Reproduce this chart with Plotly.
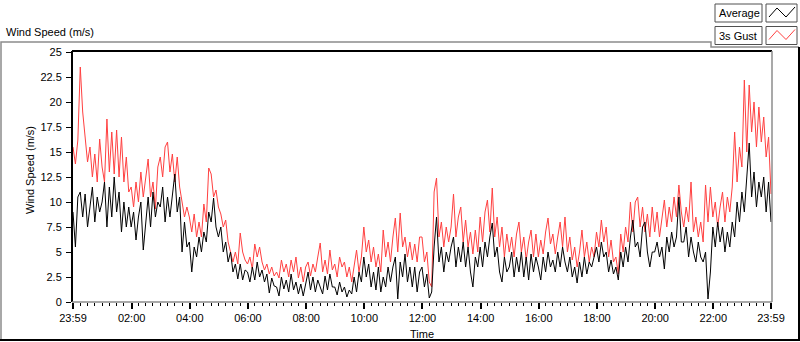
import plotly.graph_objects as go

# ---------------- data (5-minute samples) ----------------
series_names = ["Average", "3s Gust"]
start_label = "23:59"
step_minutes = 5

gust = [
    15.5, 13.8, 16.2, 23.5, 19.0, 16.5, 14.0, 15.5, 12.5, 14.8, 12.0, 16.3,
    13.5, 12.0, 18.3, 13.0, 17.0, 12.8, 17.2, 12.5, 16.5, 12.0, 14.5, 11.0,
    11.5, 9.5, 12.0, 10.0, 13.0, 10.5, 12.5, 14.3, 10.5, 12.0, 9.3, 13.5,
    14.5, 12.5, 15.5, 16.0, 13.0, 14.8, 12.0, 14.5, 11.5, 10.0, 8.5, 9.5,
    8.5, 7.0, 8.8, 6.5, 8.0, 6.5, 9.8, 8.0, 13.4, 12.8, 10.5, 11.2,
    9.5, 8.8, 7.5, 8.2, 6.0, 5.0, 4.0, 5.0, 3.8, 6.9, 5.0, 4.2,
    3.8, 4.5, 3.3, 5.8, 4.5, 5.5, 4.0, 3.2, 3.8, 2.8, 3.5, 2.6,
    3.0, 2.4, 4.2, 3.0, 3.8, 2.5, 4.2, 3.0, 4.5, 2.4, 3.5, 2.0,
    3.5, 4.0, 2.6, 3.8, 3.0, 4.5, 5.9, 3.0, 4.2, 2.8, 5.2, 3.2,
    3.8, 2.5, 4.5, 3.5, 4.0, 2.5, 3.5, 2.0, 3.8, 5.2, 3.0, 4.5,
    7.5, 5.0, 6.2, 4.0, 5.5, 3.5, 4.8, 3.0, 7.2, 4.5, 6.0, 4.0,
    6.5, 8.4, 5.0, 8.9, 5.5, 6.5, 4.5, 6.0, 4.2, 5.8, 4.0, 6.5,
    6.5, 4.0, 5.0, 2.0, 1.5, 11.0, 12.4, 6.5, 8.0, 5.5, 7.5, 6.0,
    7.5, 10.8, 6.5, 8.5, 9.5, 6.0, 8.2, 5.5, 7.0, 4.8, 7.2, 5.0,
    8.5, 6.0, 9.0, 10.2, 7.0, 11.4, 6.5, 8.5, 5.5, 7.5, 4.5, 6.8,
    5.0, 6.5, 4.5, 6.8, 8.0, 5.0, 6.5, 4.2, 6.0, 7.2, 4.5, 6.8,
    4.5, 6.2, 4.8, 7.0, 8.4, 5.8, 6.8, 4.8, 6.5, 8.0, 5.5, 8.5,
    5.0, 6.5, 4.2, 5.5, 3.5, 5.0, 7.2, 4.5, 6.0, 4.0, 5.5, 4.5,
    7.0, 5.5, 8.2, 6.0, 7.5, 4.5, 6.2, 4.0, 4.5, 2.8, 6.8, 5.0,
    7.5, 6.0, 10.0, 7.0, 10.0, 10.5, 7.5, 9.5, 7.0, 8.8, 6.5, 9.5,
    7.0, 9.0, 6.5, 8.5, 10.2, 7.5, 9.5, 8.0, 10.5, 8.5, 11.7, 9.0,
    7.5, 9.5, 8.0, 12.0, 7.0, 8.5, 6.5, 8.0, 6.0, 11.7, 8.0, 11.5,
    8.5, 10.0, 7.5, 9.5, 11.0, 8.0, 10.5, 9.0, 11.5, 17.0, 12.0, 15.5,
    13.5, 22.2, 15.0, 21.7, 17.0, 20.0, 15.5, 19.5, 16.0, 18.5, 14.5, 16.5,
    10.8,
]

average = [
    9.0, 5.5, 10.5, 11.0, 8.5, 10.8, 7.5, 9.5, 11.5, 8.0, 10.5, 9.0,
    10.0, 12.0, 7.5, 11.5, 8.5, 12.5, 9.0, 11.0, 7.0, 10.0, 7.5, 9.5,
    7.5, 9.0, 6.2, 8.5, 10.0, 5.2, 8.0, 10.5, 7.5, 11.0, 8.5, 10.0,
    9.5, 11.5, 8.0, 10.5, 8.5, 11.0, 12.8, 9.0, 10.5, 5.0, 8.0, 5.5,
    6.0, 3.0, 5.5, 4.5, 6.5, 5.0, 7.0, 6.0, 9.0, 8.0, 10.4, 7.5,
    6.5, 7.5, 5.0, 6.0, 4.0, 5.0, 3.0, 3.8, 2.3, 3.8, 2.2, 3.2,
    3.0, 2.0, 3.5, 2.2, 4.0, 2.5, 3.2, 2.0, 2.8, 0.9, 2.4, 1.6,
    1.5, 0.6, 2.5, 1.3, 2.2, 1.0, 2.8, 1.2, 2.0, 0.8, 1.8, 0.6,
    1.8, 3.0, 1.2, 2.5, 1.0, 2.2, 1.5, 0.8, 2.6, 1.2, 2.8, 1.5,
    1.5, 0.7, 2.0, 1.0, 1.5, 0.5, 1.2, 0.8, 2.5, 1.0, 3.0, 2.0,
    4.5, 2.5, 3.8, 1.5, 3.0, 1.2, 3.5, 1.0, 2.5, 1.5, 3.5, 2.0,
    3.5, 4.5, 0.3, 4.0, 2.5, 4.8, 2.0, 3.5, 1.5, 3.5, 1.0, 3.0,
    3.5, 1.5, 2.8, 0.4, 1.0, 5.5, 8.5, 4.0, 5.5, 3.0, 5.0, 4.0,
    5.5, 6.5, 3.5, 5.5, 4.0, 6.0, 3.5, 5.5, 3.0, 1.5, 4.5, 3.5,
    5.5, 3.5, 6.0, 4.5, 6.5, 7.9, 4.5, 5.5, 3.0, 2.0, 4.5, 3.0,
    3.5, 5.0, 2.5, 4.5, 3.0, 5.0, 2.5, 4.5, 2.2, 4.8, 3.0, 4.5,
    3.5, 2.2, 4.5, 3.0, 5.0, 3.5, 4.2, 3.0, 5.0, 3.5, 5.5, 4.0,
    3.0, 4.5, 2.5, 3.5, 1.9, 4.0, 2.5, 4.5, 2.8, 4.0, 3.5, 4.5,
    5.5, 4.0, 6.0, 4.5, 5.0, 3.0, 4.2, 2.8, 3.5, 2.2, 5.0, 3.5,
    5.5, 4.0, 6.5, 8.2, 5.5, 6.0, 4.5, 7.5, 8.0, 5.0, 3.5, 5.0,
    5.0, 6.0, 4.5, 5.5, 3.3, 6.5, 5.0, 7.0, 5.5, 6.5, 10.5, 6.0,
    6.0, 7.5, 4.5, 6.5, 5.0, 4.0, 6.0, 4.5, 4.0, 5.0, 0.3, 3.0,
    7.5, 5.5, 8.0, 6.0, 7.5, 5.0, 7.0, 5.5, 8.0, 6.5, 10.0, 8.0,
    11.0, 9.0, 12.5, 15.9, 10.5, 13.0, 9.5, 12.0, 10.5, 12.5, 9.0, 12.0,
    8.0,
]

tick_labels = ["23:59", "02:00", "04:00", "06:00", "08:00", "10:00", "12:00",
               "14:00", "16:00", "18:00", "20:00", "22:00", "23:59"]
y_ticks = [0, 2.5, 5, 7.5, 10, 12.5, 15, 17.5, 20, 22.5, 25]

# ---------------- derived positions ----------------
minutes = [i * step_minutes for i in range(len(gust))]
total = minutes[-1]


def to_min(label, idx):
    h, m = map(int, label.split(":"))
    sh, sm = map(int, start_label.split(":"))
    d = (h * 60 + m) - (sh * 60 + sm)
    if d < 0 or (idx == len(tick_labels) - 1):
        d += 1440
    return d


tick_vals = [to_min(l, i) for i, l in enumerate(tick_labels)]
tick_vals[0] = 0
minor_vals = [m for m in range(15, total, 15) if all(abs(m - t) > 3 for t in tick_vals)]

RED = "#ff4040"
FONT = "Liberation Sans, Arial, sans-serif"

W, H = 800, 342
L, R, T, B = 72, 28, 51, 40


def px(x):
    return (x - L) / (W - L - R)


def py(y):
    return (H - B - y) / (H - T - B)


fig = go.Figure()
fig.add_trace(go.Scatter(x=minutes, y=gust, mode="lines", name=series_names[1],
                         line=dict(color=RED, width=1), showlegend=False))
fig.add_trace(go.Scatter(x=minutes, y=average, mode="lines", name=series_names[0],
                         line=dict(color="#000000", width=1), showlegend=False))

span = W - L - R - 2
mpp = total / span
fig.update_xaxes(
    range=[-mpp, total + mpp], showgrid=False, zeroline=False, showline=False,
    tickmode="array", tickvals=tick_vals, ticktext=tick_labels,
    ticks="outside", ticklen=6, tickwidth=2, tickcolor="#000",
    tickfont=dict(family=FONT, size=11, color="#000"),
    minor=dict(tickmode="array", tickvals=minor_vals, ticks="outside",
               ticklen=3, tickwidth=1, tickcolor="#000", showgrid=False),
)
fig.update_yaxes(
    range=[0, 25.1], showgrid=False, zeroline=False, showline=False,
    tickmode="array", tickvals=y_ticks, ticktext=[f"{v:g}" for v in y_ticks],
    ticks="outside", ticklen=5, tickwidth=1, tickcolor="#000",
    tickfont=dict(family=FONT, size=11, color="#000"), ticklabelstandoff=2,
)

shapes = []
# plot frame
shapes.append(dict(type="line", xref="paper", yref="paper", x0=0, x1=1, y0=1, y1=1,
                   line=dict(color="#000", width=2), layer="above"))
shapes.append(dict(type="line", xref="paper", yref="paper", x0=0, x1=0, y0=0, y1=1,
                   line=dict(color="#000", width=2), layer="above"))
shapes.append(dict(type="line", xref="paper", yref="paper", x0=1, x1=1, y0=0, y1=1,
                   line=dict(color="#8c8c8c", width=1.5), layer="above"))
shapes.append(dict(type="line", xref="paper", yref="paper", x0=0, x1=1, y0=0, y1=0,
                   line=dict(color="#8c8c8c", width=1.5), layer="above"))
# outer frame
shapes.append(dict(type="path", xref="paper", yref="paper",
                   path=f"M{px(1)},{py(340)} L{px(1)},{py(42)} L{px(711)},{py(42)} "
                        f"L{px(711)},{py(47)} L{px(799)},{py(47)}",
                   line=dict(color="#8c8c8c", width=1.5)))
shapes.append(dict(type="path", xref="paper", yref="paper",
                   path=f"M{px(0)},{py(340)} L{px(799)},{py(340)} L{px(799)},{py(47)}",
                   line=dict(color="#000", width=2)))

annotations = [
    dict(text="Wind Speed (m/s)", x=px(4), y=py(32), xref="paper", yref="paper",
         xanchor="left", yanchor="middle", showarrow=False,
         font=dict(family=FONT, size=11, color="#000")),
    dict(text="Wind Speed (m/s)", x=px(30), y=py(170), xref="paper", yref="paper",
         xanchor="center", yanchor="middle", showarrow=False, textangle=-90,
         font=dict(family=FONT, size=11, color="#000")),
    dict(text="Time", x=0.5, y=py(334), xref="paper", yref="paper",
         xanchor="center", yanchor="middle", showarrow=False,
         font=dict(family=FONT, size=11, color="#000")),
]

# custom legend (text box + line swatch)
legend_rows = [(series_names[0], "#000000", 4), (series_names[1], RED, 26.5)]
for name, col, top in legend_rows:
    bot = top + 18
    shapes.append(dict(type="rect", xref="paper", yref="paper",
                       x0=px(715), x1=px(762), y0=py(bot), y1=py(top),
                       line=dict(color="#505050", width=1), fillcolor="white"))
    shapes.append(dict(type="rect", xref="paper", yref="paper",
                       x0=px(766), x1=px(797), y0=py(bot), y1=py(top),
                       line=dict(color="#505050", width=1), fillcolor="white"))
    shapes.append(dict(type="path", xref="paper", yref="paper",
                       path=f"M{px(769)},{py(top + 13)} L{px(777)},{py(top + 4)} "
                            f"L{px(786)},{py(top + 13)} L{px(795)},{py(top + 3)}",
                       line=dict(color=col, width=1)))
    annotations.append(dict(text=name, x=px(717), y=py(top + 9), xref="paper", yref="paper",
                            xanchor="left", yanchor="middle", showarrow=False,
                            font=dict(family=FONT, size=11, color="#000")))

fig.update_layout(
    width=W, height=H, margin=dict(l=L, r=R, t=T, b=B),
    paper_bgcolor="white", plot_bgcolor="white",
    shapes=shapes, annotations=annotations, showlegend=False,
)

fig.write_html("out.html", config={"displayModeBar": False, "staticPlot": True},
               post_script="document.body.style.margin='0px';document.body.style.overflow='hidden';")
